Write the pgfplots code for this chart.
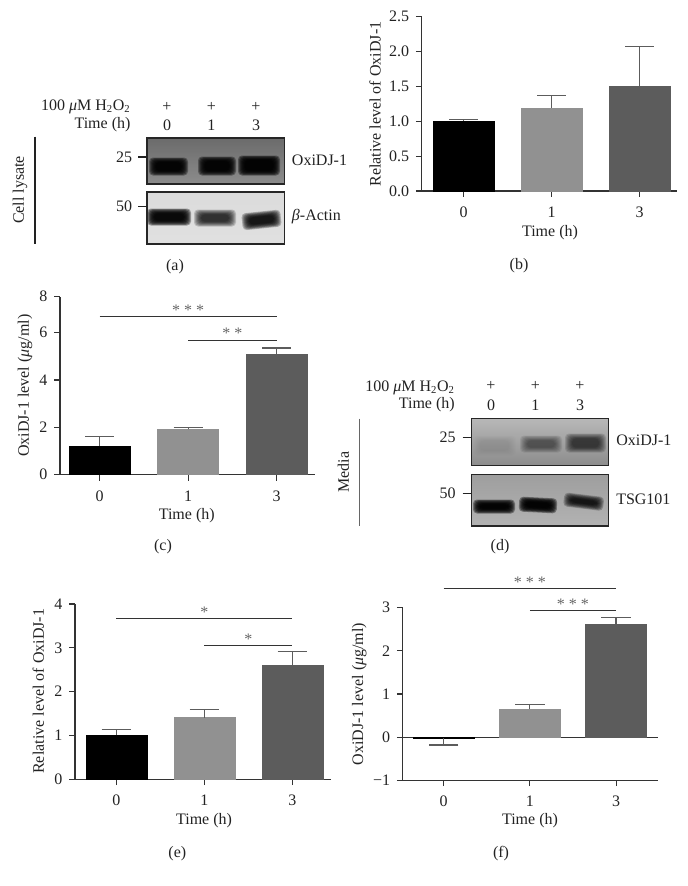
\documentclass[border=0pt]{standalone}
\usepackage{fontspec}
\setmainfont{Liberation Serif}
\usepackage{pgfplots}
\pgfplotsset{compat=1.18}

\definecolor{axc}{HTML}{333333}
\definecolor{txt}{HTML}{222222}
\definecolor{barA}{HTML}{000000}
\definecolor{barB}{HTML}{919191}
\definecolor{barC}{HTML}{5C5C5C}

\tikzset{stars/.style={text=gray!80!black,font=\fontsize{12}{14}\selectfont}}

\pgfplotsset{
  panel/.style={
    scale only axis, anchor=south west, clip=false,
    axis lines=left, axis line style={-,axc,line width=0.8pt},
    tick align=outside, major tick length=4.4pt,
    tick style={axc,line width=0.8pt},
    xtick={0,1,2}, xticklabels={0,1,3},
    tick label style={font=\fontsize{12}{14}\selectfont,text=txt},
    xticklabel style={yshift=-4pt},
    yticklabel style={xshift=-1.5pt},
    label style={font=\fontsize{12}{14}\selectfont,text=txt},
    xlabel={Time (h)},
    enlargelimits=false,
  },
  onebar/.style 2 args={ybar,bar width=45.75pt,bar shift=0pt,fill=#1,draw=#1,
    error bars/.cd,y dir=#2,y explicit,error mark=-,
    error bar style={barC,line width=0.9pt},
    error mark options={rotate=90,barC,mark size=11pt,line width=0.9pt}},
  sig/.style={axc,line width=0.8pt,forget plot},
}

% blurred band on a blot
\newcommand{\band}[6][]{%
  \foreach \i in {0,...,7}{
    \fill[black,opacity=#6,rounded corners=3pt,#1]
      (#2+\i*1.0-3,#4+\i*0.7-2.5) rectangle (#3-\i*1.0+3,#5-\i*0.7+2.5);
  }}

\begin{document}
\begin{tikzpicture}[x=0.75pt,y=-0.75pt,
    lab/.style={font=\fontsize{12}{14}\selectfont,text=txt,inner sep=0pt}]
\path[use as bounding box] (0,0) rectangle (688,886);

% ---- (a) blots
\node[lab,anchor=east] at (130.7,106.5) {100 \textit{μ}M H\textsubscript{2}O\textsubscript{2}};
\node[lab,anchor=east] at (130.7,125) {Time (h)};
\foreach \x/\t in {167/0,211.3/1,256/3}{
  \node[lab] at (\x,106.5) {+};
  \node[lab] at (\x,125) {\t};
}
\draw[txt,line width=0.8pt] (35,136.7) -- (35,244);
\node[lab,rotate=90] at (20,190) {Cell lysate};

\shade[top color=black!58,bottom color=black!45] (147,138) rectangle (284.3,184);
\band{152}{185}{160}{173}{0.33}
\band{201}{233}{159}{173}{0.33}
\band{241}{277}{158}{173}{0.35}
\draw[black!85,line width=0.8pt] (147,138) rectangle (284.3,184);

\shade[top color=black!14,bottom color=black!12] (147,192) rectangle (284.3,244);
\band{150}{188}{211}{223}{0.32}
\band{197}{233}{212}{224}{0.17}
\band[rotate around={6:(261,220)}]{245}{278}{214}{226}{0.24}
\draw[black!85,line width=0.8pt] (147,192) rectangle (284.3,244);

\draw[txt,line width=0.8pt] (138.3,157) -- (147,157) (138.3,206.7) -- (147,206.7);
\node[lab] at (124,157) {25};
\node[lab] at (124,206.7) {50};
\node[lab,anchor=west] at (291.7,160) {OxiDJ-1};
\node[lab,anchor=west] at (291.7,217) {\textit{β}-Actin};
\node[lab] at (175,266.7) {(a)};

% ---- (d) blots
\node[lab,anchor=east] at (455,387.5) {100 \textit{μ}M H\textsubscript{2}O\textsubscript{2}};
\node[lab,anchor=east] at (455,405) {Time (h)};
\foreach \x/\t in {491/0,535.3/1,580/3}{
  \node[lab] at (\x,386) {+};
  \node[lab] at (\x,405) {\t};
}
\draw[black!60,line width=0.8pt] (359.7,418.7) -- (359.7,525.7);
\node[lab,rotate=90] at (343.3,472) {Media};

\shade[top color=black!28,bottom color=black!45] (471.3,418.7) rectangle (608.3,465.7);
\band{476}{513}{438}{453}{0.012}
\band{523}{559}{438}{450}{0.08}
\band{568}{603}{436}{450}{0.12}
\draw[black!85,line width=0.8pt] (471.3,418.7) rectangle (608.3,465.7);

\shade[top color=black!38,bottom color=black!30] (471.3,474.3) rectangle (608.3,526);
\band{476}{512}{502}{511}{0.36}
\band[rotate around={-3:(538,505)}]{522}{554}{500}{510}{0.36}
\band[rotate around={-7:(566,498)}]{567}{601}{495}{504}{0.22}
\draw[black!85,line width=0.8pt] (471.3,474.3) rectangle (608.3,526);

\draw[txt,line width=0.8pt] (462.7,437.7) -- (471.3,437.7) (462.7,493.7) -- (471.3,493.7);
\node[lab] at (447.7,437.7) {25};
\node[lab] at (447.7,493.7) {50};
\node[lab,anchor=west] at (616,440) {OxiDJ-1};
\node[lab,anchor=west] at (616,499) {TSG101};
\node[lab] at (500,546.7) {(d)};

% ---- (b)
\coordinate (pb) at (421.7,191);
\begin{axis}[panel,at={(pb)},width=191.5pt,height=131pt,
    xmin=-0.477,xmax=2.424,ymin=0,ymax=2.5,
    ytick={0,0.5,1,1.5,2,2.5},yticklabels={0.0,0.5,1.0,1.5,2.0,2.5},
    ylabel={Relative level of OxiDJ-1},
    ylabel style={at={(axis description cs:-0.183,0.498)},anchor=center},
    xlabel style={at={(axis description cs:0.5025,-0.239)},anchor=center}]
  \addplot[onebar={barA}{plus}] coordinates {(0,1.00) +- (0,0.02)};
  \addplot[onebar={barB}{plus}] coordinates {(1,1.19) +- (0,0.18)};
  \addplot[onebar={barC}{plus}] coordinates {(2,1.50) +- (0,0.57)};
\end{axis}
\node[lab] at (519,265.7) {(b)};

% ---- (c)  top tick sits closer than the others in the original
\coordinate (pc) at (60,474.7);
\begin{axis}[panel,at={(pc)},width=191.25pt,height=133.5pt,
    xmin=-0.449,xmax=2.433,ymin=0,ymax=7.52,
    ytick={0,2,4,6,7.52},yticklabels={0,2,4,6,8},
    ylabel={OxiDJ-1 level (\textit{μ}g/ml)},
    ylabel style={at={(axis description cs:-0.137,0.5)},anchor=center},
    xlabel style={at={(axis description cs:0.497,-0.232)},anchor=center}]
  \addplot[onebar={barA}{plus}] coordinates {(0,1.21) +- (0,0.39)};
  \addplot[onebar={barB}{plus}] coordinates {(1,1.92) +- (0,0.08)};
  \addplot[onebar={barC}{plus}] coordinates {(2,5.07) +- (0,0.28)};
  \addplot[sig] coordinates {(0,6.68) (2,6.68)};
  \addplot[sig] coordinates {(1,5.67) (2,5.67)};
  \node[stars] at (axis cs:1,6.94) {* * *};
  \node[stars] at (axis cs:1.5,5.97) {* *};
\end{axis}
\node[lab] at (163,546.7) {(c)};

% ---- (e)
\coordinate (pe) at (75,779.3);
\begin{axis}[panel,at={(pe)},width=192pt,height=131.5pt,
    xmin=-0.469,xmax=2.44,ymin=0,ymax=4,
    ytick={0,1,2,3,4},yticklabels={0,1,2,3,4},
    ylabel={Relative level of OxiDJ-1},
    ylabel style={at={(axis description cs:-0.143,0.502)},anchor=center},
    xlabel style={at={(axis description cs:0.504,-0.236)},anchor=center}]
  \addplot[onebar={barA}{plus}] coordinates {(0,1.01) +- (0,0.13)};
  \addplot[onebar={barB}{plus}] coordinates {(1,1.41) +- (0,0.18)};
  \addplot[onebar={barC}{plus}] coordinates {(2,2.60) +- (0,0.31)};
  \addplot[sig] coordinates {(0,3.669) (2,3.669)};
  \addplot[sig] coordinates {(1,3.05) (2,3.05)};
  \node[stars] at (axis cs:1,3.81) {*};
  \node[stars] at (axis cs:1.5,3.2) {*};
\end{axis}
\node[lab] at (177.3,854) {(e)};

% ---- (f)
\coordinate (pf) at (402.7,780.3);
\begin{axis}[panel,at={(pf)},width=191.7pt,height=129.45pt,
    xmin=-0.476,xmax=2.49,ymin=-1,ymax=3,
    ytick={-1,0,1,2,3},yticklabels={−1,0,1,2,3},
    ylabel={OxiDJ-1 level (\textit{μ}g/ml)},
    ylabel style={at={(axis description cs:-0.17,0.5)},anchor=center},
    xlabel style={at={(axis description cs:0.498,-0.234)},anchor=center}]
  \addplot[sig] coordinates {(-0.476,0) (2.49,0)};
  \addplot[onebar={barA}{minus}] coordinates {(0,-0.03) +- (0,0.15)};
  \addplot[onebar={barB}{plus}] coordinates {(1,0.65) +- (0,0.115)};
  \addplot[onebar={barC}{plus}] coordinates {(2,2.62) +- (0,0.15)};
  \addplot[sig] coordinates {(0,3.45) (2,3.45)};
  \addplot[sig] coordinates {(1,2.93) (2,2.93)};
  \node[stars] at (axis cs:1,3.6) {* * *};
  \node[stars] at (axis cs:1.5,3.08) {* * *};
\end{axis}
\node[lab] at (501,854) {(f)};
\end{tikzpicture}
\end{document}
